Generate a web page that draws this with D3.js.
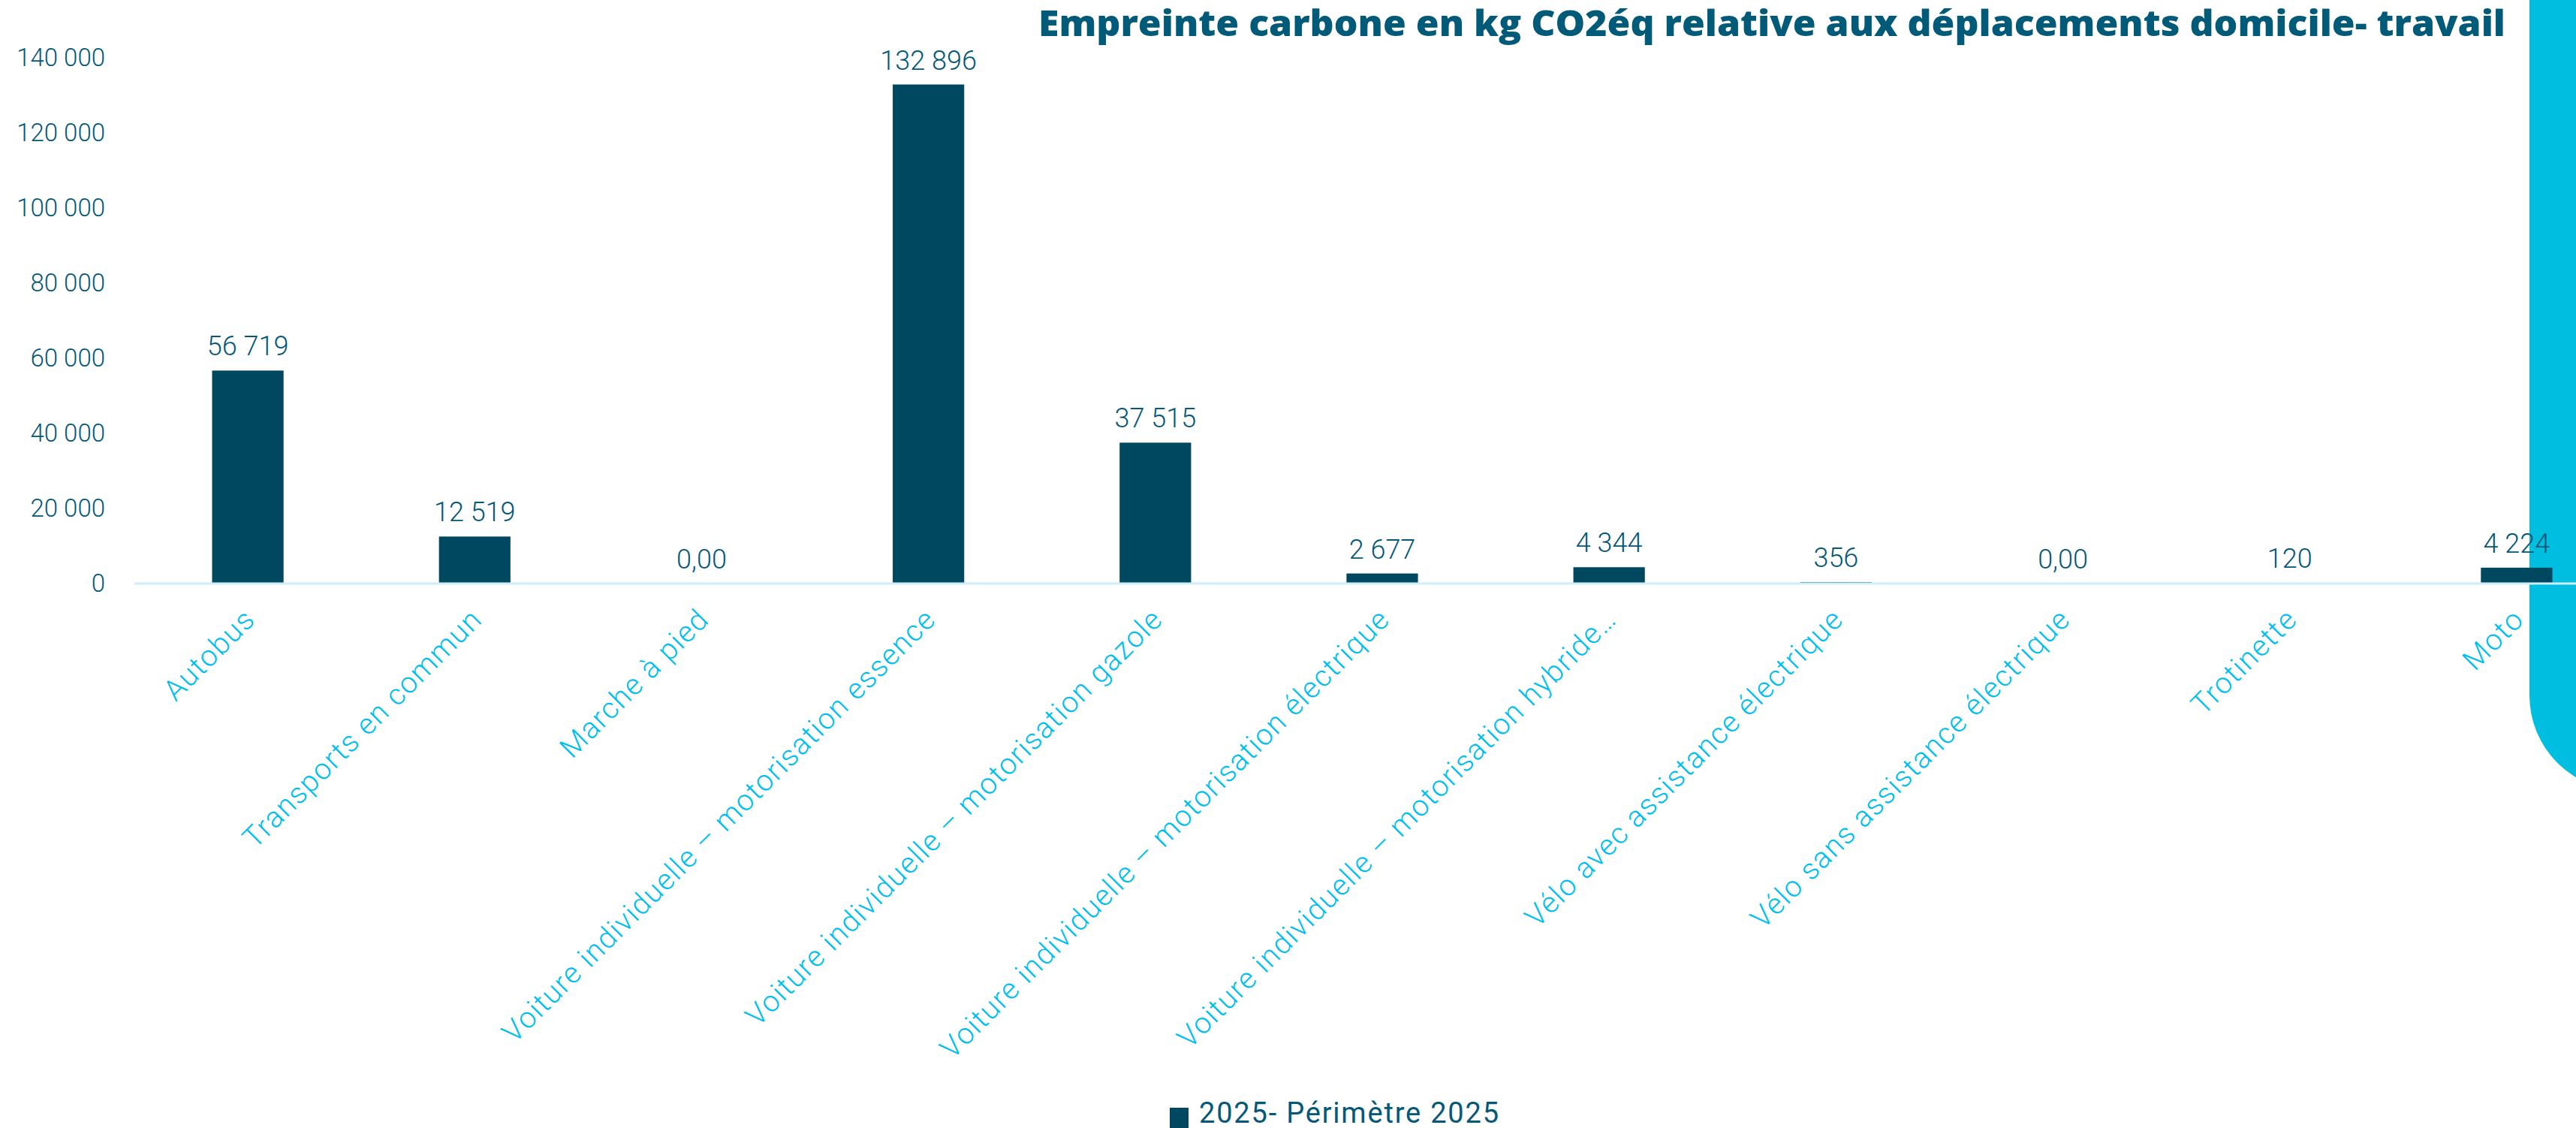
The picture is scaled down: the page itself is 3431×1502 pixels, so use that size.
<!DOCTYPE html>
<html>
<head>
<meta charset="utf-8">
<script src="https://cdn.jsdelivr.net/npm/d3@7"></script>
<style>
  body { margin: 0; background: #fff; }
  svg { display: block; }
  .tick-label { font-family: Roboto, "Open Sans", sans-serif; font-weight: 300; }
</style>
</head>
<body>
<svg id="chart1" width="3431" height="1502"></svg>
<script>
// chart values
var categories = [
  "Autobus",
  "Transports en commun",
  "Marche à pied",
  "Voiture individuelle – motorisation essence",
  "Voiture individuelle – motorisation gazole",
  "Voiture individuelle – motorisation électrique",
  "Voiture individuelle – motorisation hybride…",
  "Vélo avec assistance électrique",
  "Vélo sans assistance électrique",
  "Trotinette",
  "Moto"
];
var values = [56719, 12519, 0, 132896, 37515, 2677, 4344, 356, 0, 120, 4224];
var yTicks = [0, 20000, 40000, 60000, 80000, 100000, 120000, 140000];
var seriesName = "2025- Périmètre 2025";
var title = "Empreinte carbone en kg CO2éq relative aux déplacements domicile- travail";

(function () {
  var svg = d3.select("#chart1");

  var barColor = "#004860";
  var textColor = "#055878";
  var labelColor = "#00bff0";

  // french number format: space as thousands separator
  var fr = d3.formatLocale({decimal: ",", thousands: " ", grouping: [3], currency: ["", " €"]});
  var fmt = fr.format(",d");

  // cyan decoration on the right edge, behind the chart
  svg.append("path")
    .attr("d", "M3369,0 V926 A127,127 0 0 0 3496,1053 H3600 V0 Z")
    .attr("fill", "#00bedf");

  var x = d3.scaleBand()
    .domain(categories)
    .range([179, 3503])
    .paddingInner(0.685)
    .paddingOuter(0.3425);

  var y = d3.scaleLinear()
    .domain([0, 140000])
    .range([777, 77]);

  // y axis labels only
  var yAxis = svg.append("g")
    .attr("transform", "translate(179,0)")
    .call(d3.axisLeft(y).tickValues(yTicks).tickSize(0).tickPadding(39).tickFormat(fmt));
  yAxis.select(".domain").remove();
  yAxis.selectAll("text")
    .attr("class", "tick-label")
    .attr("fill", textColor)
    .style("font-size", "33px");

  // bars
  svg.selectAll(".bar")
    .data(values)
    .enter().append("rect")
    .attr("class", "bar")
    .attr("x", function(d, i) { return x(categories[i]); })
    .attr("width", x.bandwidth())
    .attr("y", function(d) { return y(d); })
    .attr("height", function(d) { return y(0) - y(d); })
    .attr("fill", barColor);

  // baseline
  svg.append("line")
    .attr("x1", x.range()[0]).attr("x2", x.range()[1])
    .attr("y1", y(0)).attr("y2", y(0))
    .attr("stroke", "#cdeefa")
    .attr("stroke-width", 3);

  // value labels
  svg.selectAll(".value")
    .data(values)
    .enter().append("text")
    .attr("class", "value tick-label")
    .attr("x", function(d, i) { return x(categories[i]) + x.bandwidth() / 2; })
    .attr("y", function(d) { return y(d) - 20; })
    .attr("text-anchor", "middle")
    .attr("fill", textColor)
    .style("font-size", "36px")
    .text(function(d) { return d === 0 ? "0,00" : fmt(d); });

  // category labels, rotated
  svg.selectAll(".cat")
    .data(categories)
    .enter().append("text")
    .attr("class", "cat tick-label")
    .attr("transform", function(d) {
      return "translate(" + (x(d) + x.bandwidth() / 2 + 12) + "," + (y(0) + 50) + ") rotate(-45)";
    })
    .attr("text-anchor", "end")
    .attr("fill", labelColor)
    .style("font-size", "39px")
    .style("letter-spacing", "1.5px")
    .text(function(d) { return d; });

  // title
  svg.append("text")
    .attr("x", 3337)
    .attr("y", 48)
    .attr("text-anchor", "end")
    .attr("fill", "#005a78")
    .attr("textLength", 1954)
    .attr("lengthAdjust", "spacingAndGlyphs")
    .style("font-family", "'Open Sans', Roboto, sans-serif")
    .style("font-weight", 800)
    .style("font-size", "48px")
    .text(title);

  // legend
  var legend = svg.append("g").attr("transform", "translate(1558,1475)");
  legend.append("rect")
    .attr("width", 25).attr("height", 27)
    .attr("fill", barColor);
  legend.append("text")
    .attr("x", 39)
    .attr("y", 20)
    .attr("fill", textColor)
    .style("font-family", "Roboto, sans-serif")
    .style("font-size", "38px")
    .style("letter-spacing", "1.8px")
    .text(seriesName);
}());
</script>
</body>
</html>
